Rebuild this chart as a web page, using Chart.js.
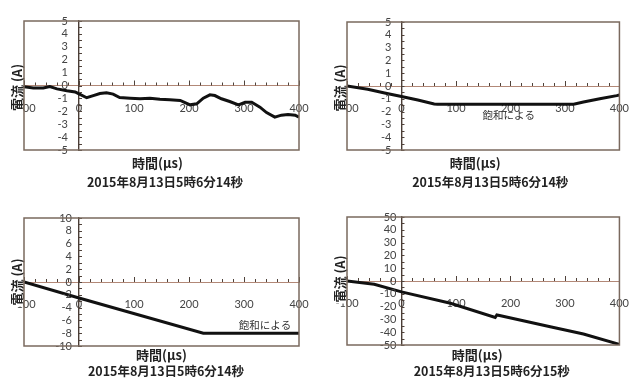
<!DOCTYPE html>
<html><head><meta charset="utf-8">
<script src="https://cdn.jsdelivr.net/npm/chart.js@4"></script>
<style>
html,body{margin:0;padding:0;background:#fff;width:637px;height:383px;overflow:hidden;}
canvas{position:absolute;}
</style></head><body>
<canvas id="c1" width="318" height="190" style="left:0;top:0"></canvas>
<canvas id="c2" width="319" height="190" style="left:318px;top:0"></canvas>
<canvas id="c3" width="318" height="193" style="left:0;top:190px"></canvas>
<canvas id="c4" width="319" height="193" style="left:318px;top:190px"></canvas>
<script>
// ---- text ----
const xAxisTitle = '時間(μs)';
const yAxisTitle = '電流 (A)';
const dateLabels = ['2015年8月13日5時6分14秒', '2015年8月13日5時6分14秒', '2015年8月13日5時6分14秒', '2015年8月13日5時6分15秒'];
const saturationNote = '飽和による';

// ---- tick labels ----
const xTickValues = [-100, 0, 100, 200, 300, 400];
const yTicksSmall = [-5, -4, -3, -2, -1, 0, 1, 2, 3, 4, 5];
const yTicksMid = [-10, -8, -6, -4, -2, 0, 2, 4, 6, 8, 10];
const yTicksLarge = [-50, -40, -30, -20, -10, 0, 10, 20, 30, 40, 50];

// ---- series (time µs, current A) ----
const p1Time = [-100, -83, -65, -53, -40, -22, -7, 0, 14, 26, 38, 50, 62, 74, 93, 111, 129, 147, 165, 184, 202, 214, 226, 238, 247, 259, 274, 290, 302, 314, 329, 341, 356, 368, 380, 393, 400];
const p1Current = [-0.1, -0.2, -0.2, -0.08, -0.26, -0.4, -0.5, -0.65, -0.95, -0.78, -0.62, -0.57, -0.67, -0.93, -0.98, -1.03, -0.98, -1.07, -1.1, -1.16, -1.5, -1.42, -0.98, -0.72, -0.78, -1.03, -1.24, -1.5, -1.3, -1.3, -1.68, -2.1, -2.45, -2.3, -2.25, -2.3, -2.45];

const p2Time = [-100, -62, -31, 0, 30, 60, 66, 316, 334, 364, 395, 400];
const p2Current = [0, -0.25, -0.55, -0.82, -1.1, -1.4, -1.42, -1.42, -1.25, -1.0, -0.75, -0.7];

const p3Time = [-100, 0, 226, 400];
const p3Current = [0, -2.5, -8, -8];

const p4Time = [-100, -50, 0, 90, 172, 175, 180, 273, 334, 400];
const p4Current = [0, -2.6, -8.5, -17.4, -28.5, -26.5, -27, -35.7, -41.4, -49.5];

const FONT_TICK = "'Liberation Sans Narrow', 'Lato', sans-serif";
const FONT_CJK = "'Noto Sans CJK JP', sans-serif";
const TICK_SIZE = 11;

const decoPlugin = {
  id: 'deco',
  afterDraw(chart, args, o) {
    const {ctx, chartArea: a, scales: {x, y}} = chart;
    ctx.save();
    const y0 = y.getPixelForValue(0);
    const x0 = x.getPixelForValue(0);
    ctx.strokeStyle = '#4f423a';
    ctx.lineWidth = 1;
    for (let v = x.min; v <= x.max + 1e-9; v += o.xMinor) {
      const px = Math.round(x.getPixelForValue(v)) + 0.5;
      const major = Math.abs(v % 100) < 1e-9;
      ctx.beginPath(); ctx.moveTo(px, y0); ctx.lineTo(px, y0 - (major ? 5 : 3)); ctx.stroke();
    }
    for (let v = y.min; v <= y.max + 1e-9; v += o.yMinor) {
      const py = Math.round(y.getPixelForValue(v)) + 0.5;
      ctx.beginPath(); ctx.moveTo(x0, py); ctx.lineTo(x0 + 3, py); ctx.stroke();
    }
    // y tick labels, placed by the y scale
    ctx.font = TICK_SIZE + 'px ' + FONT_TICK;
    ctx.fillStyle = '#444';
    ctx.textAlign = 'right';
    ctx.textBaseline = 'middle';
    y.ticks.forEach(t => {
      ctx.fillText(String(t.value), x0 - o.yLabelPad, y.getPixelForValue(t.value));
    });
    // y title with white backing
    ctx.save();
    ctx.translate(a.left - 7, (a.top + a.bottom) / 2 + o.yTitleDy);
    ctx.rotate(-Math.PI / 2);
    ctx.font = 'bold 13px ' + FONT_CJK;
    const w = ctx.measureText(o.yTitle).width;
    ctx.fillStyle = '#fff';
    ctx.fillRect(-w / 2 - 1, -7, w + 2, 13);
    ctx.fillStyle = '#222';
    ctx.textAlign = 'center';
    ctx.textBaseline = 'middle';
    ctx.fillText(o.yTitle, 0, 0);
    ctx.restore();
    // box
    ctx.strokeStyle = '#7a695e';
    ctx.lineWidth = 1.5;
    ctx.strokeRect(a.left, a.top, a.right - a.left, a.bottom - a.top);
    // bottom titles
    const cx = (a.left + a.right) / 2;
    ctx.fillStyle = '#222';
    ctx.textAlign = 'center';
    ctx.textBaseline = 'middle';
    ctx.font = 'bold 13px ' + FONT_CJK;
    ctx.fillText(o.xTitle, cx + o.titleDx, a.bottom + o.titleDy);
    ctx.font = 'bold 12.5px ' + FONT_CJK;
    ctx.fillText(o.date, cx + o.dateDx, a.bottom + o.dateDy);
    // note
    if (o.note) {
      ctx.font = '10.5px ' + FONT_CJK;
      ctx.fillStyle = '#333';
      ctx.fillText(o.note.text, x.getPixelForValue(o.note.x), y.getPixelForValue(o.note.y));
    }
    ctx.restore();
  }
};

function makeChart(id, times, currents, yTicks, pad, deco) {
  const pts = times.map((t, i) => ({x: t, y: currents[i]}));
  return new Chart(document.getElementById(id), {
    type: 'line',
    data: {datasets: [{data: pts, borderColor: '#111', borderWidth: 3, pointRadius: 0, tension: 0, fill: false}]},
    options: {
      responsive: false, animation: false, devicePixelRatio: 1,
      layout: {padding: pad},
      plugins: {legend: {display: false}, tooltip: {enabled: false}, deco: deco},
      scales: {
        x: {
          type: 'linear', min: xTickValues[0], max: xTickValues[xTickValues.length - 1],
          position: {y: 0},
          afterBuildTicks: s => { s.ticks = xTickValues.map(v => ({value: v})); },
          ticks: {color: '#444', font: {family: FONT_TICK, size: TICK_SIZE}, padding: 8, maxRotation: 0, autoSkip: false},
          grid: {display: false},
          border: {display: true, color: '#b28877', width: 1}
        },
        y: {
          type: 'linear', min: yTicks[0], max: yTicks[yTicks.length - 1],
          position: {x: 0},
          afterBuildTicks: s => { s.ticks = yTicks.map(v => ({value: v})); },
          ticks: {display: false},
          grid: {display: false},
          border: {display: true, color: '#4a3d36', width: 1.4}
        }
      }
    },
    plugins: [decoPlugin]
  });
}

makeChart('c1', p1Time, p1Current, yTicksSmall, {left: 24, top: 21, right: 19, bottom: 40},
  {xMinor: 20, yMinor: 0.5, yLabelPad: 11, yTitle: yAxisTitle, yTitleDy: 2, xTitle: xAxisTitle, date: dateLabels[0], titleDx: -4, titleDy: 13, dateDx: 3.5, dateDy: 32.5});
makeChart('c2', p2Time, p2Current, yTicksSmall, {left: 29, top: 22, right: 16, bottom: 40},
  {xMinor: 20, yMinor: 0.5, yLabelPad: 10, yTitle: yAxisTitle, yTitleDy: 2, xTitle: xAxisTitle, date: dateLabels[1], titleDx: -8, titleDy: 13, dateDx: 7, dateDy: 32.5,
   note: {text: saturationNote, x: 197, y: -2.25}});
makeChart('c3', p3Time, p3Current, yTicksMid, {left: 24, top: 28, right: 19, bottom: 37},
  {xMinor: 20, yMinor: 1, yLabelPad: 7, yTitle: yAxisTitle, yTitleDy: 0, xTitle: xAxisTitle, date: dateLabels[2], titleDx: 0, titleDy: 9.5, dateDx: 4.5, dateDy: 25.5,
   note: {text: saturationNote, x: 338, y: -6.7}});
makeChart('c4', p4Time, p4Current, yTicksLarge, {left: 29, top: 27, right: 16, bottom: 38},
  {xMinor: 20, yMinor: 5, yLabelPad: 5, yTitle: yAxisTitle, yTitleDy: -2, xTitle: xAxisTitle, date: dateLabels[3], titleDx: -6, titleDy: 10.5, dateDx: 8.5, dateDy: 26.5});
</script>
</body></html>
